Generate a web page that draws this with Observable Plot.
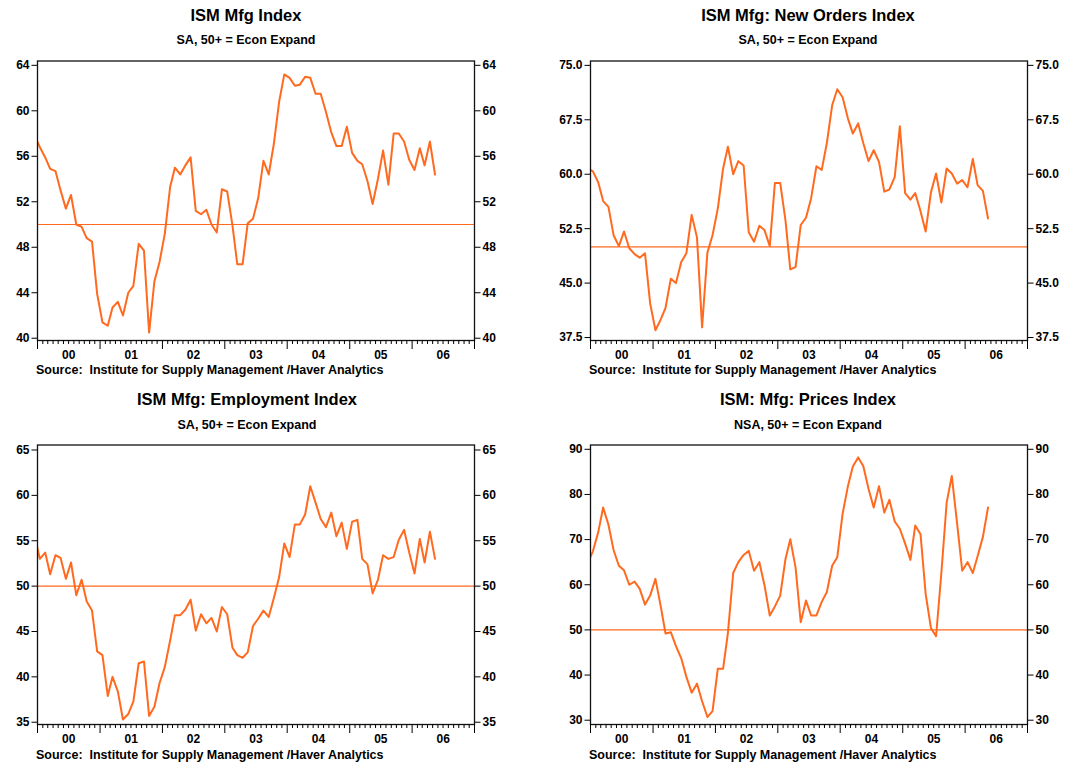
<!DOCTYPE html>
<html>
<head>
<meta charset="utf-8">
<script src="https://cdn.jsdelivr.net/npm/d3@7"></script>
<script src="https://cdn.jsdelivr.net/npm/@observablehq/plot@0.6"></script>
<style>
  body { margin: 0; background: #fff; font-family: "Liberation Sans", Arial, Helvetica, sans-serif; }
  #root { position: relative; width: 1069px; height: 763px; overflow: hidden; background: #fff; }
  .t { position: absolute; width: 440px; text-align: center; font-weight: bold; line-height: 1; white-space: nowrap; color: #000; }
  .title { font-size: 16.5px; }
  .sub { font-size: 12.5px; }
  .src { position: absolute; font-size: 12.5px; font-weight: bold; line-height: 1; white-space: pre; color: #000; }
  .plot { position: absolute; }
</style>
</head>
<body>
<div id="root"></div>
<script>
// Monthly values, Dec 1999 through May 2006 (first point lies just left of the axis and is clipped)
const ismMfg = [
  57.8,
  56.8, 55.9, 54.9, 54.7, 53.0, 51.4, 52.6, 50.0, 49.8, 48.8, 48.5, 43.9,
  41.4, 41.1, 42.7, 43.2, 42.0, 44.0, 44.6, 48.3, 47.7, 40.5, 45.0, 46.7,
  49.2, 53.3, 55.0, 54.4, 55.2, 55.9, 51.2, 50.9, 51.3, 50.0, 49.3, 53.1,
  52.9, 49.9, 46.5, 46.5, 50.1, 50.5, 52.3, 55.6, 54.4, 57.1, 60.8, 63.2,
  62.9, 62.2, 62.3, 63.0, 62.9, 61.5, 61.5, 59.9, 58.1, 56.9, 56.9, 58.6,
  56.3, 55.6, 55.3, 53.8, 51.8, 54.0, 56.5, 53.5, 58.0, 58.0, 57.3, 55.7,
  54.8, 56.7, 55.2, 57.3, 54.4
];
const newOrders = [
  60.8,
  60.4, 58.9, 56.3, 55.5, 51.6, 50.1, 52.1, 49.8, 49.0, 48.5, 49.1, 42.2,
  38.5, 40.0, 41.6, 45.6, 45.0, 47.9, 49.1, 54.4, 51.3, 38.9, 49.2, 51.6,
  55.3, 60.8, 63.8, 60.0, 61.8, 61.2, 52.0, 50.7, 52.9, 52.3, 50.1, 58.8,
  58.8, 53.6, 46.9, 47.2, 53.0, 54.0, 56.7, 61.1, 60.6, 64.3, 69.5, 71.7,
  70.6, 67.7, 65.6, 67.0, 64.3, 61.8, 63.3, 61.7, 57.6, 57.9, 59.6, 66.6,
  57.4, 56.5, 57.4, 54.9, 52.1, 57.5, 60.1, 56.1, 60.8, 60.1, 58.7, 59.2,
  58.2, 62.1, 58.5, 57.7, 53.9
];
const employment = [
  55.5,
  53.0, 53.7, 51.3, 53.4, 53.1, 50.8, 52.6, 49.0, 50.7, 48.3, 47.3, 42.8,
  42.4, 37.9, 40.0, 38.4, 35.3, 35.9, 37.3, 41.5, 41.7, 35.7, 36.7, 39.3,
  41.1, 44.0, 46.8, 46.8, 47.4, 48.5, 45.1, 46.9, 45.9, 46.5, 45.0, 47.7,
  46.9, 43.2, 42.4, 42.1, 42.7, 45.6, 46.4, 47.3, 46.6, 48.7, 51.0, 54.7,
  53.2, 56.8, 56.8, 57.9, 61.0, 59.2, 57.4, 56.5, 58.1, 55.5, 57.0, 54.1,
  57.1, 57.3, 53.0, 52.4, 49.2, 50.7, 53.4, 53.0, 53.2, 55.1, 56.2, 53.7,
  51.4, 55.2, 52.6, 56.0, 53.0
];
const prices = [
  64.8,
  67.4, 71.6, 77.1, 73.3, 67.7, 64.2, 63.2, 60.0, 60.7, 59.1, 55.6, 57.6,
  61.3, 55.2, 49.2, 49.5, 46.4, 43.7, 39.6, 36.1, 38.1, 34.2, 30.7, 32.0,
  41.4, 41.4, 49.3, 62.6, 65.0, 66.6, 67.5, 63.1, 65.0, 59.9, 53.2, 55.2,
  57.6, 65.7, 70.1, 63.8, 51.7, 56.5, 53.2, 53.2, 56.2, 58.4, 64.2, 66.1,
  75.7, 81.8, 86.2, 88.2, 86.3, 81.2, 77.1, 81.8, 76.0, 78.8, 74.0, 72.4,
  69.1, 65.5, 73.1, 71.2, 58.0, 50.4, 48.6, 62.6, 78.2, 84.1, 73.6, 63.1,
  65.0, 62.6, 66.3, 70.6, 77.1
];

const titles = ["ISM Mfg Index", "ISM Mfg: New Orders Index", "ISM Mfg: Employment Index", "ISM: Mfg: Prices Index"];
const subtitles = ["SA, 50+ = Econ Expand", "SA, 50+ = Econ Expand", "SA, 50+ = Econ Expand", "NSA, 50+ = Econ Expand"];
const sourceText = "Source:  Institute for Supply Management /Haver Analytics";
const yTicks1 = [40, 44, 48, 52, 56, 60, 64];
const yTicks2 = [37.5, 45, 52.5, 60, 67.5, 75];
const yTicks3 = [35, 40, 45, 50, 55, 60, 65];
const yTicks4 = [30, 40, 50, 60, 70, 80, 90];
const yearLabels = ["00", "01", "02", "03", "04", "05", "06"];
const threshold = 50;

const ORANGE = "#ff6a1f";
const FONT = "'Liberation Sans', Arial, Helvetica, sans-serif";

const panels = [
  { values: ismMfg, ticks: yTicks1, fmt: d => String(d), domain: [39.8, 64.38], left: 0, top: 0, tc: 246 },
  { values: newOrders, ticks: yTicks2, fmt: d => d.toFixed(1), domain: [37.09, 75.6], left: 553, top: 0, tc: 808 },
  { values: employment, ticks: yTicks3, fmt: d => String(d), domain: [34.75, 65.55], left: 0, top: 384.3, tc: 247 },
  { values: prices, ticks: yTicks4, fmt: d => String(d), domain: [29.05, 90.95], left: 553, top: 384.3, tc: 808 }
];

const xStart = new Date(Date.UTC(2000, 0, 1));
const xEnd = new Date(Date.UTC(2007, 0, 1));
const yearTicks = d3.utcYear.range(xStart, new Date(Date.UTC(2007, 0, 2)));
const monthTicks = d3.utcMonth.range(xStart, xEnd).filter(d => d.getUTCMonth() !== 0);
const midYears = yearLabels.map((_, i) => new Date(Date.UTC(2000 + i, 6, 2)));

const root = document.getElementById("root");

panels.forEach((p, k) => {
  const data = p.values.map((v, i) => ({ date: new Date(Date.UTC(1999, 11 + i, 15)), value: v }));

  const tl = document.createElement("div");
  tl.className = "t title";
  tl.style.left = (p.tc - 220) + "px";
  tl.style.top = (p.top + 6.7) + "px";
  tl.textContent = titles[k];
  root.appendChild(tl);

  const st = document.createElement("div");
  st.className = "t sub";
  st.style.left = (p.tc - 220) + "px";
  st.style.top = (p.top + 34.4) + "px";
  st.textContent = subtitles[k];
  root.appendChild(st);

  const svg = Plot.plot({
    width: 534,
    height: 320,
    marginLeft: 37,
    marginRight: 60,
    marginTop: 10.5,
    marginBottom: 30,
    style: `background:transparent;color:#000;font-family:${FONT};font-size:12px;font-weight:bold;overflow:visible;`,
    x: { type: "utc", domain: [xStart, xEnd], label: null },
    y: { domain: p.domain, label: null },
    marks: [
      Plot.ruleY([threshold], { stroke: ORANGE, strokeWidth: 1.2 }),
      Plot.lineY(data, { x: "date", y: "value", stroke: ORANGE, strokeWidth: 2, clip: true }),
      Plot.frame({ stroke: "#111", strokeWidth: 1.3 }),
      Plot.axisY({ anchor: "left", ticks: p.ticks, tickSize: 5.5, tickPadding: 2.5, tickFormat: p.fmt, fontSize: 12, label: null }),
      Plot.axisY({ anchor: "right", ticks: p.ticks, tickSize: 5.5, tickPadding: 2.5, tickFormat: p.fmt, fontSize: 12, label: null }),
      Plot.axisX({ anchor: "bottom", ticks: yearTicks, tickSize: 9, tickFormat: () => "", label: null }),
      Plot.axisX({ anchor: "bottom", ticks: monthTicks, tickSize: 4, tickFormat: () => "", label: null }),
      Plot.axisX({ anchor: "bottom", ticks: midYears, tickSize: 0, tickPadding: 10, tickFormat: (d, i) => yearLabels[i], fontSize: 12, label: null })
    ]
  });
  svg.classList.add("plot");
  svg.style.left = p.left + "px";
  svg.style.top = (p.top + 50) + "px";
  svg.style.position = "absolute";
  root.appendChild(svg);

  const src = document.createElement("div");
  src.className = "src";
  src.style.left = (p.left + 36) + "px";
  src.style.top = (p.top + 364.4) + "px";
  src.textContent = sourceText;
  root.appendChild(src);
});
</script>
</body>
</html>
